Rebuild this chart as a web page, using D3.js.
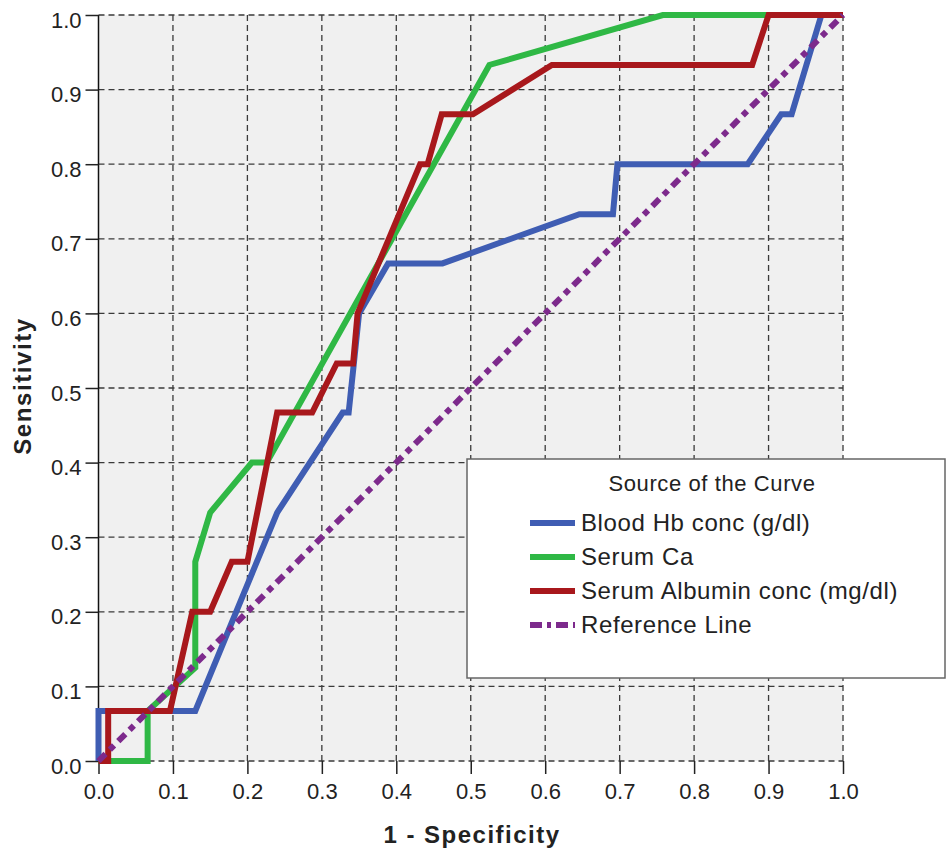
<!DOCTYPE html>
<html lang="en">
<head>
<meta charset="UTF-8">
<script src="https://d3js.org/d3.v7.min.js"></script>
<title>ROC curve</title>
<style>
  body { margin: 0; background: #fff; }
  text { font-family: "Liberation Sans", Arial, sans-serif; fill: #222; }
</style>
</head>
<body>
<script>
var width = 947, height = 854;

// ROC points (1 - specificity, sensitivity)
var hbFpr  = [0, 0, 0.13, 0.24, 0.328, 0.336, 0.343, 0.35, 0.389, 0.462, 0.646, 0.691, 0.697, 0.872, 0.917, 0.931, 0.971, 1];
var hbTpr  = [0, 0.067, 0.067, 0.333, 0.467, 0.467, 0.533, 0.6, 0.667, 0.667, 0.733, 0.733, 0.8, 0.8, 0.867, 0.867, 1, 1];

var caFpr  = [0, 0.066, 0.066, 0.13, 0.13, 0.15, 0.206, 0.226, 0.525, 0.758, 1];
var caTpr  = [0, 0, 0.067, 0.125, 0.267, 0.333, 0.4, 0.4, 0.933, 1, 1];

var albFpr = [0, 0.013, 0.013, 0.096, 0.126, 0.15, 0.179, 0.2, 0.24, 0.287, 0.32, 0.342, 0.348, 0.432, 0.442, 0.461, 0.503, 0.609, 0.878, 0.9, 1];
var albTpr = [0, 0, 0.067, 0.067, 0.2, 0.2, 0.267, 0.267, 0.467, 0.467, 0.533, 0.533, 0.6, 0.8, 0.8, 0.867, 0.867, 0.933, 0.933, 1, 1];

var refFpr = [0, 1];
var refTpr = [0, 1];

var tickValues = [0, 0.1, 0.2, 0.3, 0.4, 0.5, 0.6, 0.7, 0.8, 0.9, 1.0];

var series = [
  { name: "Blood Hb conc (g/dl)", x: hbFpr, y: hbTpr, color: "#3f5db3", dash: null },
  { name: "Serum Ca", x: caFpr, y: caTpr, color: "#2fb845", dash: null },
  { name: "Serum Albumin conc (mg/dl)", x: albFpr, y: albTpr, color: "#a8181c", dash: null },
  { name: "Reference Line", x: refFpr, y: refTpr, color: "#7d2a8c", dash: "10,6,6,6" }
];

var svg = d3.select("body").append("svg")
  .attr("width", width)
  .attr("height", height);

var x = d3.scaleLinear().domain([0, 1]).range([98.5, 843]);
var y = d3.scaleLinear().domain([0, 1]).range([761, 15]);

// plot background
svg.append("rect")
  .attr("x", x(0)).attr("y", y(1))
  .attr("width", x(1) - x(0)).attr("height", y(0) - y(1))
  .attr("fill", "#f0f0f0");

// dashed grid
svg.append("g").selectAll("line").data(tickValues.slice(1)).join("line")
  .attr("x1", d => x(d)).attr("x2", d => x(d))
  .attr("y1", y(0)).attr("y2", y(1))
  .attr("stroke", "#3a3a3a").attr("stroke-width", 1.3).attr("stroke-dasharray", "6,4");
svg.append("g").selectAll("line").data(tickValues).join("line")
  .attr("x1", x(0)).attr("x2", x(1))
  .attr("y1", d => y(d)).attr("y2", d => y(d))
  .attr("stroke", "#3a3a3a").attr("stroke-width", 1.3).attr("stroke-dasharray", "6,4");

// axes
var fmt = d3.format(".1f");
var yAxis = svg.append("g")
  .attr("transform", "translate(" + x(0) + ",0)")
  .call(d3.axisLeft(y).tickValues(tickValues).tickFormat(fmt).tickSize(13).tickPadding(4));
var xAxis = svg.append("g")
  .attr("transform", "translate(0," + y(0) + ")")
  .call(d3.axisBottom(x).tickValues(tickValues).tickFormat(fmt).tickSize(13).tickPadding(9));
xAxis.select(".domain").remove();
yAxis.select(".domain").attr("d", "M0," + y(1) + "V" + y(0)).attr("stroke", "#111").attr("stroke-width", 1.5);
svg.selectAll(".tick line").attr("stroke", "#222").attr("stroke-width", 1.5);
svg.selectAll(".tick text")
  .style("font-family", "'Liberation Sans', Arial, sans-serif")
  .style("font-size", "22px").attr("fill", "#222");
yAxis.selectAll(".tick text").attr("dy", "0.55em");

// curves
var line = d3.line().x(d => x(d[0])).y(d => y(d[1]));
series.forEach(function (s) {
  var pts = s.x.map((v, i) => [v, s.y[i]]);
  svg.append("path")
    .attr("d", line(pts))
    .attr("fill", "none")
    .attr("stroke", s.color)
    .attr("stroke-width", 6)
    .attr("stroke-linejoin", "miter")
    .attr("stroke-dasharray", s.dash);
});

// axis titles
svg.append("text")
  .attr("x", 472).attr("y", 843)
  .attr("text-anchor", "middle")
  .style("font-size", "24px").style("font-weight", "bold")
  .attr("letter-spacing", 1.5)
  .text("1 - Specificity");
svg.append("text")
  .attr("transform", "translate(31,386) rotate(-90)")
  .attr("text-anchor", "middle")
  .style("font-size", "24px").style("font-weight", "bold")
  .attr("letter-spacing", 1.6)
  .text("Sensitivity");

// legend
var lg = svg.append("g");
lg.append("rect")
  .attr("x", 467).attr("y", 459).attr("width", 478).attr("height", 219)
  .attr("fill", "#fff").attr("stroke", "#666").attr("stroke-width", 1.5);
lg.append("text")
  .attr("x", 712).attr("y", 491).attr("text-anchor", "middle")
  .style("font-size", "22px")
  .attr("letter-spacing", 0.6)
  .text("Source of the Curve");
var item = lg.selectAll("g.item").data(series).join("g")
  .attr("transform", (d, i) => "translate(0," + (523 + i * 34) + ")");
item.append("line")
  .attr("x1", 530).attr("x2", 575).attr("y1", 0).attr("y2", 0)
  .attr("stroke", d => d.color).attr("stroke-width", 6)
  .attr("stroke-dasharray", d => d.dash ? "12,5,4,5" : null);
item.append("text")
  .attr("x", 581).attr("y", 8)
  .style("font-size", "24px")
  .attr("letter-spacing", 0.6)
  .text(d => d.name);
</script>
</body>
</html>
